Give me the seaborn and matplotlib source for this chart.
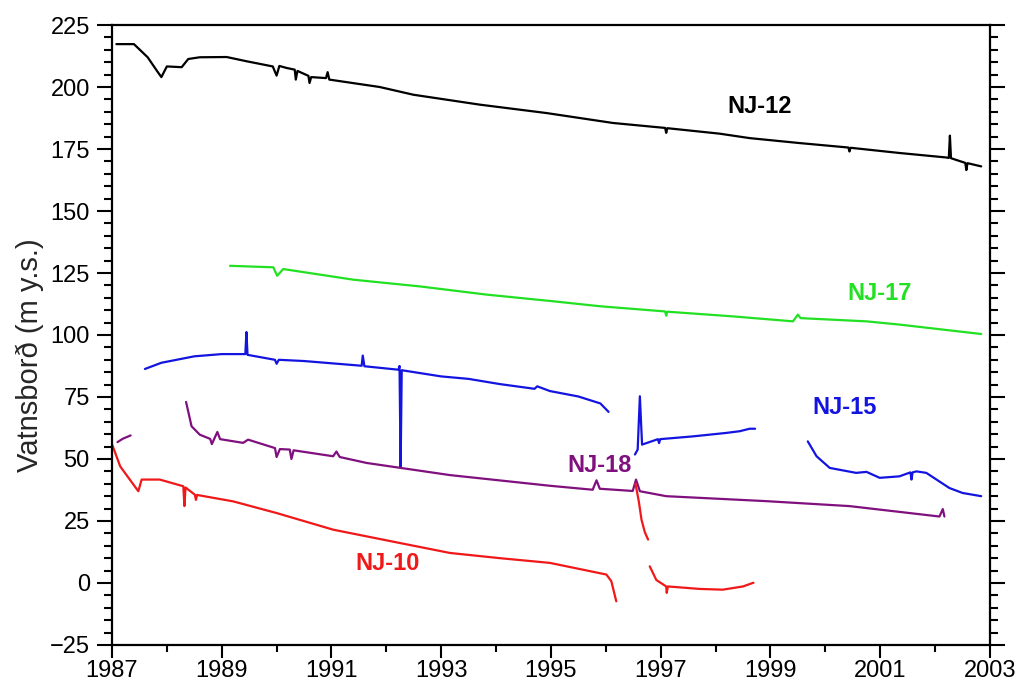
import pandas as pd
import matplotlib.pyplot as plt
import seaborn as sns
from matplotlib.ticker import MultipleLocator, FixedLocator

# Water level records (year, m a.s.l.)
nj12_year = [1987.08, 1987.40, 1987.65, 1987.82, 1987.90, 1988.00, 1988.27, 1988.39, 1988.60,
             1989.09, 1989.45, 1989.93, 1990.00, 1990.05, 1990.18, 1990.33, 1990.35, 1990.38,
             1990.58, 1990.60, 1990.63, 1990.90, 1990.93, 1990.96, 1991.88, 1992.49, 1993.70,
             1994.92, 1996.13, 1997.08, 1997.10, 1997.12, 1998.07, 1998.62, 1999.53, 2000.42,
             2000.44, 2000.46, 2001.35, 2002.20, 2002.25, 2002.27, 2002.29, 2002.55, 2002.57,
             2002.59, 2002.84]
nj12_level = [217.3, 217.3, 212.0, 206.5, 204.0, 208.3, 208.0, 211.3, 212.0,
              212.1, 210.4, 208.3, 204.6, 208.5, 207.7, 207.0, 203.0, 206.5,
              204.5, 201.6, 204.0, 203.6, 206.0, 203.0, 200.0, 196.9, 192.9,
              189.5, 185.5, 183.5, 181.5, 183.4, 181.2, 179.4, 177.4, 175.6,
              174.0, 175.5, 173.4, 171.6, 171.4, 180.4, 171.3, 169.4, 166.5,
              169.3, 168.0]

nj17_year = [1989.15, 1989.94, 1990.01, 1990.12, 1991.40, 1992.61, 1993.82, 1995.04, 1995.89,
             1997.08, 1997.10, 1997.12, 1998.32, 1999.41, 1999.50, 1999.55, 2000.75, 2001.35,
             2002.84]
nj17_level = [127.9, 127.3, 123.9, 126.6, 122.3, 119.6, 116.3, 113.6, 111.6,
              109.5, 107.8, 109.4, 107.5, 105.5, 108.2, 106.8, 105.5, 104.2,
              100.4]

nj15a_year = [1987.60, 1987.90, 1988.50, 1989.00, 1989.43, 1989.45, 1989.47, 1989.97, 1990.00,
              1990.04, 1990.50, 1991.55, 1991.57, 1991.60, 1992.22, 1992.24, 1992.26, 1992.28,
              1993.00, 1993.50, 1994.07, 1994.70, 1994.75, 1994.98, 1995.50, 1995.90, 1996.05]
nj15a_level = [86.3, 88.8, 91.4, 92.3, 92.3, 101.2, 92.0, 90.0, 88.4,
               90.0, 89.5, 87.6, 91.7, 87.4, 86.0, 87.5, 46.4, 85.8,
               83.3, 82.3, 80.2, 78.3, 79.3, 77.4, 75.2, 72.4, 69.0]
nj15b_year = [1996.53, 1996.58, 1996.62, 1996.66, 1996.95, 1996.97, 1996.99, 1997.58, 1998.19,
              1998.44, 1998.62, 1998.72]
nj15b_level = [51.8, 53.8, 75.3, 55.8, 58.0, 56.4, 58.0, 59.1, 60.5,
               61.2, 62.2, 62.2]
nj15c_year = [1999.68, 1999.84, 2000.08, 2000.56, 2000.75, 2000.99, 2001.35, 2001.55, 2001.57,
              2001.59, 2001.66, 2001.84, 2002.26, 2002.50, 2002.84]
nj15c_level = [57.1, 51.1, 46.4, 44.4, 44.8, 42.4, 43.0, 44.6, 41.7,
               44.6, 45.0, 44.4, 38.3, 36.3, 35.0]

nj18a_year = [1987.10, 1987.20, 1987.34]
nj18a_level = [56.8, 58.2, 59.5]
nj18b_year = [1988.35, 1988.45, 1988.60, 1988.79, 1988.82, 1988.92, 1988.97, 1989.39, 1989.48,
              1989.97, 1990.00, 1990.06, 1990.24, 1990.27, 1990.31, 1991.03, 1991.09, 1991.15,
              1991.64, 1993.16, 1994.98, 1995.76, 1995.83, 1995.89, 1996.49, 1996.55, 1996.62,
              1997.10, 1998.92, 2000.44, 2002.08, 2002.14, 2002.17]
nj18b_level = [73.0, 63.2, 59.8, 58.1, 56.0, 60.9, 58.0, 56.5, 57.8,
               54.4, 50.8, 54.0, 53.8, 50.0, 53.5, 51.1, 53.0, 50.8,
               48.4, 43.5, 39.2, 37.6, 41.4, 38.0, 37.1, 41.7, 37.0,
               35.0, 33.0, 31.0, 26.8, 29.8, 26.8]

nj10a_year = [1987.00, 1987.15, 1987.48, 1987.54, 1987.87, 1988.30, 1988.32, 1988.34, 1988.51,
              1988.53, 1988.55, 1989.21, 1990.00, 1991.03, 1992.25, 1993.16, 1994.07, 1994.98,
              1996.01, 1996.10, 1996.19]
nj10a_level = [56.0, 47.0, 37.0, 41.7, 41.7, 39.0, 31.0, 38.5, 35.6,
               33.5, 35.5, 32.9, 28.2, 21.5, 16.1, 12.1, 10.0, 8.1,
               3.4, 0.7, -7.4]
nj10b_year = [1996.54, 1996.60, 1996.65, 1996.71, 1996.77]
nj10b_level = [40.0, 33.0, 25.5, 20.5, 17.5]
nj10c_year = [1996.80, 1996.92, 1997.10, 1997.11, 1997.13, 1997.71, 1998.13, 1998.50, 1998.69]
nj10c_level = [6.7, 1.2, -1.4, -4.0, -1.4, -2.4, -2.7, -1.4, 0.1]

wells = ['NJ-12', 'NJ-17', 'NJ-15', 'NJ-18', 'NJ-10']
colors = ['#000000', '#22e022', '#1414e0', '#80107e', '#f01818']
label_year = [1998.8, 2000.99, 2000.35, 1995.89, 1992.03]
label_level = [192.0, 116.9, 70.6, 47.2, 7.7]

x_ticks = [1987, 1989, 1991, 1993, 1995, 1997, 1999, 2001, 2003]
y_ticks = [-25, 0, 25, 50, 75, 100, 125, 150, 175, 200, 225]

segments = [
    ('NJ-12', 'a', nj12_year, nj12_level),
    ('NJ-17', 'a', nj17_year, nj17_level),
    ('NJ-15', 'a', nj15a_year, nj15a_level),
    ('NJ-15', 'b', nj15b_year, nj15b_level),
    ('NJ-15', 'c', nj15c_year, nj15c_level),
    ('NJ-18', 'a', nj18a_year, nj18a_level),
    ('NJ-18', 'b', nj18b_year, nj18b_level),
    ('NJ-10', 'a', nj10a_year, nj10a_level),
    ('NJ-10', 'b', nj10b_year, nj10b_level),
    ('NJ-10', 'c', nj10c_year, nj10c_level),
]
df = pd.concat([pd.DataFrame({'year': y, 'level': v, 'well': w, 'seg': w + s})
                for w, s, y, v in segments], ignore_index=True)

sns.set_style('ticks')
plt.rcParams['font.family'] = ['Liberation Sans', 'DejaVu Sans']

fig = plt.figure(figsize=(10.19, 6.82), dpi=100)
ax = fig.add_axes([0.1099, 0.0543, 0.8616, 0.909])

sns.lineplot(data=df, x='year', y='level', hue='well', units='seg', estimator=None,
             sort=False, palette=dict(zip(wells, colors)), legend=False,
             linewidth=1.6, ax=ax)

for name, c, lx, ly in zip(wells, colors, label_year, label_level):
    ax.text(lx, ly, name, color=c, fontsize=17, fontweight='bold',
            ha='center', va='center')

ax.set_xlim(1987, 2003)
ax.set_ylim(-25, 225)
ax.xaxis.set_major_locator(FixedLocator(x_ticks))
ax.xaxis.set_minor_locator(MultipleLocator(1))
ax.yaxis.set_major_locator(FixedLocator(y_ticks))
ax.yaxis.set_minor_locator(MultipleLocator(5))
ax.tick_params(which='both', direction='out', width=1.5, colors='black',
               left=True, right=True, bottom=True, top=False, labelsize=17)
ax.tick_params(axis='y', pad=5)
ax.tick_params(axis='x', pad=2)
ax.tick_params(which='major', length=11)
ax.tick_params(which='minor', length=6)
ax.tick_params(axis='x', which='major', length=9)
ax.tick_params(axis='x', which='minor', length=5)
for sp in ax.spines.values():
    sp.set_visible(True)
    sp.set_linewidth(1.6)
    sp.set_color('black')

ax.set_xlabel('')
ax.set_ylabel('Vatnsborð (m y.s.)', fontsize=21)
ax.yaxis.set_label_coords(-0.078, 0.468)

fig.savefig('out.png', dpi=100)
